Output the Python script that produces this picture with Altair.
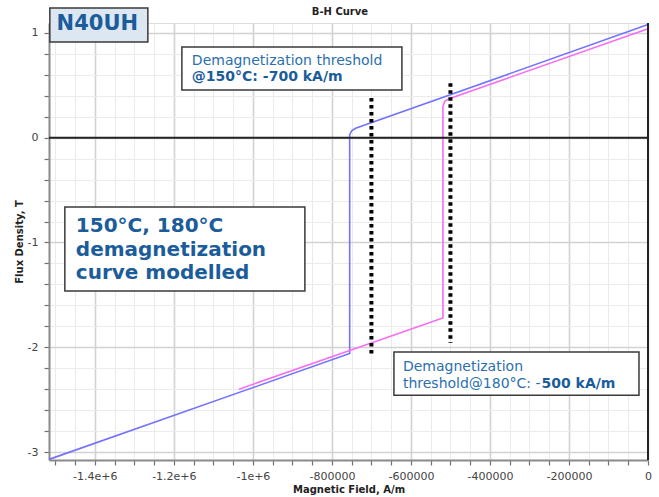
import altair as alt
import pandas as pd

# ---- data ----
blue_H = [-1516000, -755000, -755000, -750000, -740000, 0]
blue_B = [-3.07, -2.06, 0.03, 0.065, 0.09, 1.08]
pink_H = [-1035000, -519000, -519000, -514000, -505000, 0]
pink_B = [-2.40, -1.72, 0.30, 0.35, 0.37, 1.04]

thr_H = [-700000, -500000]
thr_top = [0.38, 0.52]
thr_bot = [-2.09, -1.96]

x_ticks = list(range(-1500000, 1, 50000))
y_ticks = [round(-3 + 0.2 * k, 1) for k in range(21)]

FONT = "DejaVu Sans"
BLUE_T = "#2b6fb0"
BLUE_B = "#1b5c9b"

rows = []
for i, (h, b) in enumerate(zip(blue_H, blue_B)):
    rows.append({"H": h, "B": b, "s": "150°C", "o": i})
for i, (h, b) in enumerate(zip(pink_H, pink_B)):
    rows.append({"H": h, "B": b, "s": "180°C", "o": i})
curves = pd.DataFrame(rows)

X = alt.Scale(domain=[-1516000, 0], nice=False, zero=False)
Y = alt.Scale(domain=[-3.076, 1.095], nice=False, zero=False)

major_x = "datum.value % 200000 == 0"
major_y = "abs(datum.value - round(datum.value)) < 0.001"

xaxis = alt.Axis(
    values=x_ticks, tickCount=200, title="Magnetic Field, A/m",
    labelExpr="datum.value % 200000 == 0 ? (datum.value <= -1000000 ? '-' + (abs(datum.value)/1000000) + 'e+6' : '' + datum.value) : ''",
    labelOverlap=False, labelFlush=False,
    gridColor={"condition": {"test": major_x, "value": "#d2d2d2"}, "value": "#ebebeb"},
    gridWidth={"condition": {"test": major_x, "value": 1.6}, "value": 1},
    tickSize=5, tickColor="#707070", tickWidth=1.2,
    domainColor="#8a8a8a", domainWidth=2,
    labelFont=FONT, labelFontSize=11, labelColor="#444444", labelPadding=5,
    titleFont=FONT, titleFontSize=10, titleFontWeight="bold", titleColor="#222222", titlePadding=3,
)
yaxis = alt.Axis(
    values=y_ticks, tickCount=200, title="Flux Density, T",
    labelExpr=f"{major_y} ? '' + round(datum.value) : ''",
    labelOverlap=False, labelFlush=False,
    gridColor={"condition": {"test": major_y, "value": "#d2d2d2"}, "value": "#ebebeb"},
    gridWidth={"condition": {"test": major_y, "value": 1.6}, "value": 1},
    tickSize=5, tickColor="#707070", tickWidth=1.2,
    domainColor="#8a8a8a", domainWidth=2,
    labelFont=FONT, labelFontSize=11, labelColor="#444444", labelPadding=6,
    titleFont=FONT, titleFontSize=10, titleFontWeight="bold", titleColor="#222222", titlePadding=3,
)

def xe(f):
    return alt.X(f, scale=X, axis=xaxis)

def ye(f):
    return alt.Y(f, scale=Y, axis=yaxis)

base = alt.Chart(curves).mark_line(strokeWidth=1.6).encode(
    x=xe("H:Q"),
    y=ye("B:Q"),
    color=alt.Color("s:N", scale=alt.Scale(domain=["150°C", "180°C"], range=["#7272ff", "#f86cf2"]), legend=None),
    order="o:Q",
)

zero_h = alt.Chart(pd.DataFrame({"B": [0]})).mark_rule(color="#222222", strokeWidth=2).encode(y=ye("B:Q"))
zero_v = alt.Chart(pd.DataFrame({"H": [0]})).mark_rule(color="#222222", strokeWidth=2).encode(x=xe("H:Q"))

thr = alt.Chart(pd.DataFrame({"H": thr_H, "t": thr_top, "b": thr_bot})).mark_rule(
    color="black", strokeWidth=4, strokeDash=[3.5, 3.5]
).encode(x=xe("H:Q"), y=ye("t:Q"), y2="b:Q")

# annotation boxes (data coordinates)
box_df = pd.DataFrame({
    "x1": [-1513900, -1179700, -1475900, -643000],
    "x2": [-1265800, -622800, -868400, -22800],
    "y1": [1.239, 0.866, -0.661, -2.045],
    "y2": [0.914, 0.456, -1.463, -2.458],
    "fill": ["#dde7f2", "white", "white", "white"],
})
boxes = alt.Chart(box_df).mark_rect(stroke="#3a3a3a", strokeWidth=1.5).encode(
    x=xe("x1:Q"), x2="x2:Q", y=ye("y1:Q"), y2="y2:Q",
    fill=alt.Fill("fill:N", scale=None),
)

def txt(df, size, weight, color, align="left"):
    return alt.Chart(pd.DataFrame(df)).mark_text(
        font=FONT, fontSize=size, fontWeight=weight, color=color, align=align, baseline="middle"
    ).encode(x=xe("x:Q"), y=ye("y:Q"), text="t:N")

title = txt({"x": [-779700], "y": [1.200], "t": ["B-H Curve"]}, 10, "bold", "#222222", "center")
t1 = txt({"x": [-1393700], "y": [1.088], "t": ["N40UH"]}, 21, "bold", BLUE_B, "center")
t2a = txt({"x": [-1154400], "y": [0.733], "t": ["Demagnetization threshold"]}, 14, "normal", BLUE_T)
t2b = txt({"x": [-1154400], "y": [0.580], "t": ["@150°C: -700 kA/m"]}, 14, "bold", BLUE_B)
t3 = txt({"x": [-1448100] * 3, "y": [-0.842, -1.067, -1.291],
          "t": ["150°C, 180°C", "demagnetization", "curve modelled"]}, 20, "bold", BLUE_B)
t4a = txt({"x": [-620300], "y": [-2.189], "t": ["Demagnetization"]}, 14, "normal", BLUE_T)
t4b = txt({"x": [-620300], "y": [-2.351], "t": ["threshold@180°C: -"]}, 14, "normal", BLUE_T)
t4c = txt({"x": [-269500], "y": [-2.351], "t": ["500 kA/m"]}, 14, "bold", BLUE_B)

chart = alt.layer(
    base, zero_h, zero_v, thr, boxes, title, t1, t2a, t2b, t3, t4a, t4b, t4c
).properties(
    width=599, height=437,
    autosize=alt.AutoSizeParams(type="none"),
    padding={"left": 49, "top": 23, "right": 11, "bottom": 37},
).configure_view(stroke=None).configure(background="white")

chart.save("out.html", embed_options={"renderer": "svg", "actions": False})
